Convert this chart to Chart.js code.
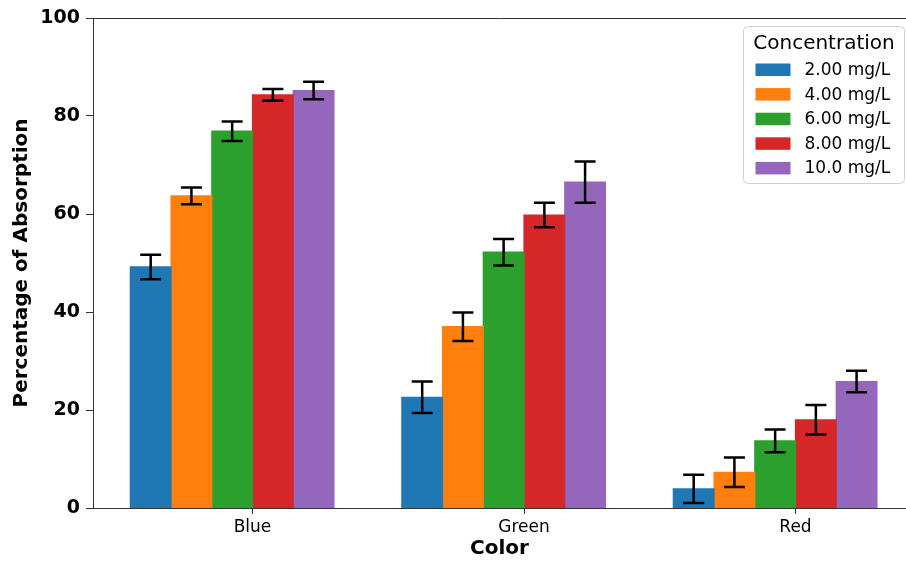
<!DOCTYPE html>
<html>
<head>
<meta charset="utf-8">
<script src="https://cdn.jsdelivr.net/npm/chart.js@4/dist/chart.umd.min.js"></script>
<style>
  html, body { margin: 0; padding: 0; background: #fff; }
  canvas { display: block; }
</style>
</head>
<body>
<canvas id="chart" width="906" height="561"></canvas>
<script>
// categories and series
const colorGroups = ['Blue', 'Green', 'Red'];
const concentrations = ['2.00 mg/L', '4.00 mg/L', '6.00 mg/L', '8.00 mg/L', '10.0 mg/L'];
const seriesColors = ['#1f77b4', '#ff7f0e', '#2ca02c', '#d62728', '#9467bd'];

// mean % absorption per colour (Blue, Green, Red)
const abs2mg = [49.2, 22.6, 3.9];
const abs4mg = [63.7, 37.0, 7.3];
const abs6mg = [76.9, 52.2, 13.7];
const abs8mg = [84.3, 59.8, 18.0];
const abs10mg = [85.2, 66.5, 25.8];

// standard deviations
const err2mg = [2.5, 3.2, 2.9];
const err4mg = [1.7, 2.9, 3.0];
const err6mg = [2.0, 2.7, 2.3];
const err8mg = [1.2, 2.5, 3.0];
const err10mg = [1.8, 4.2, 2.2];

const yTicks = [0, 20, 40, 60, 80, 100];

const means = [abs2mg, abs4mg, abs6mg, abs8mg, abs10mg];
const errors = [err2mg, err4mg, err6mg, err8mg, err10mg];

// group of bars sits half a bar left of the tick (matplotlib layout)
const GROUP_SHIFT = -0.075;
const FONT = '"DejaVu Sans", sans-serif';

const errorBars = {
  id: 'errorBars',
  afterDatasetsDraw(chart) {
    const { ctx, scales: { y } } = chart;
    ctx.save();
    ctx.strokeStyle = '#000';
    ctx.lineWidth = 2.5;
    means.forEach((vals, d) => {
      const meta = chart.getDatasetMeta(d);
      meta.data.forEach((bar, i) => {
        const top = y.getPixelForValue(vals[i] + errors[d][i]);
        const bot = y.getPixelForValue(vals[i] - errors[d][i]);
        const half = 10.5;
        ctx.beginPath();
        ctx.moveTo(bar.x, top); ctx.lineTo(bar.x, bot);
        ctx.moveTo(bar.x - half, top); ctx.lineTo(bar.x + half, top);
        ctx.moveTo(bar.x - half, bot); ctx.lineTo(bar.x + half, bot);
        ctx.stroke();
      });
    });
    ctx.restore();
  }
};

// top spine + legend box in the upper right corner
const frameAndLegend = {
  id: 'frameAndLegend',
  afterDraw(chart) {
    const { ctx, chartArea: a } = chart;
    ctx.save();
    ctx.strokeStyle = '#333';
    ctx.lineWidth = 1;
    ctx.beginPath();
    ctx.moveTo(a.left, a.top + 0.5); ctx.lineTo(a.right, a.top + 0.5);
    ctx.stroke();

    const w = 161, h = 157;
    const x0 = a.right - w - 1.5, y0 = a.top + 8.5;
    ctx.beginPath();
    ctx.roundRect(x0, y0, w, h, 4);
    ctx.fillStyle = 'rgba(255,255,255,0.8)';
    ctx.fill();
    ctx.strokeStyle = '#d0d0d0';
    ctx.stroke();

    ctx.fillStyle = '#000';
    ctx.textBaseline = 'middle';
    ctx.textAlign = 'center';
    ctx.font = '20px ' + FONT;
    ctx.fillText('Concentration', x0 + w / 2, y0 + 17);

    ctx.textAlign = 'left';
    ctx.font = '17px ' + FONT;
    chart.data.datasets.forEach((ds, k) => {
      const cy = y0 + 43 + k * 24.6;
      ctx.fillStyle = ds.backgroundColor;
      ctx.fillRect(x0 + 12, cy - 6, 35, 12.5);
      ctx.fillStyle = '#000';
      ctx.fillText(ds.label, x0 + 61, cy + 1);
    });
    ctx.restore();
  }
};

new Chart(document.getElementById('chart'), {
  type: 'bar',
  data: {
    datasets: concentrations.map((label, d) => ({
      label,
      data: colorGroups.map((_, i) => ({ x: i + GROUP_SHIFT, y: means[d][i] })),
      backgroundColor: seriesColors[d],
      borderWidth: 0,
      inflateAmount: 0.6,
      categoryPercentage: 0.75,
      barPercentage: 1.0,
    }))
  },
  options: {
    responsive: false,
    animation: false,
    layout: { padding: { top: 18, right: 0, left: 0, bottom: 0 } },
    plugins: { legend: { display: false }, tooltip: { enabled: false } },
    scales: {
      x: {
        type: 'linear',
        min: -0.5875,
        max: 2.407,
        offset: false,
        afterBuildTicks: s => { s.ticks = colorGroups.map((_, i) => ({ value: i })); },
        afterFit: s => { s.height = 53; },
        ticks: {
          callback: (v, i) => colorGroups[i],
          autoSkip: false, maxRotation: 0,
          color: '#000', padding: 3,
          font: { family: FONT, size: 17 }
        },
        grid: { offset: false, drawOnChartArea: false, drawTicks: true, tickLength: 6, color: '#333' },
        border: { display: true, color: '#333', width: 1 },
        title: {
          display: true, text: 'Color', color: '#000',
          padding: { top: 1, bottom: 0 },
          font: { family: FONT, size: 20, weight: 'bold', lineHeight: 1.2 }
        }
      },
      y: {
        min: 0, max: 100,
        afterBuildTicks: s => { s.ticks = yTicks.map(v => ({ value: v })); },
        afterFit: s => { s.width = 93; },
        ticks: {
          color: '#000', padding: 6,
          font: { family: FONT, size: 19, weight: 'bold' }
        },
        grid: { drawOnChartArea: false, drawTicks: true, tickLength: 7, color: '#333' },
        border: { display: true, color: '#333', width: 1 },
        title: {
          display: true, text: 'Percentage of Absorption', color: '#000',
          padding: { top: 10, bottom: 0 },
          font: { family: FONT, size: 20, weight: 'bold', lineHeight: 1.2 }
        }
      }
    }
  },
  plugins: [errorBars, frameAndLegend]
});
</script>
</body>
</html>
